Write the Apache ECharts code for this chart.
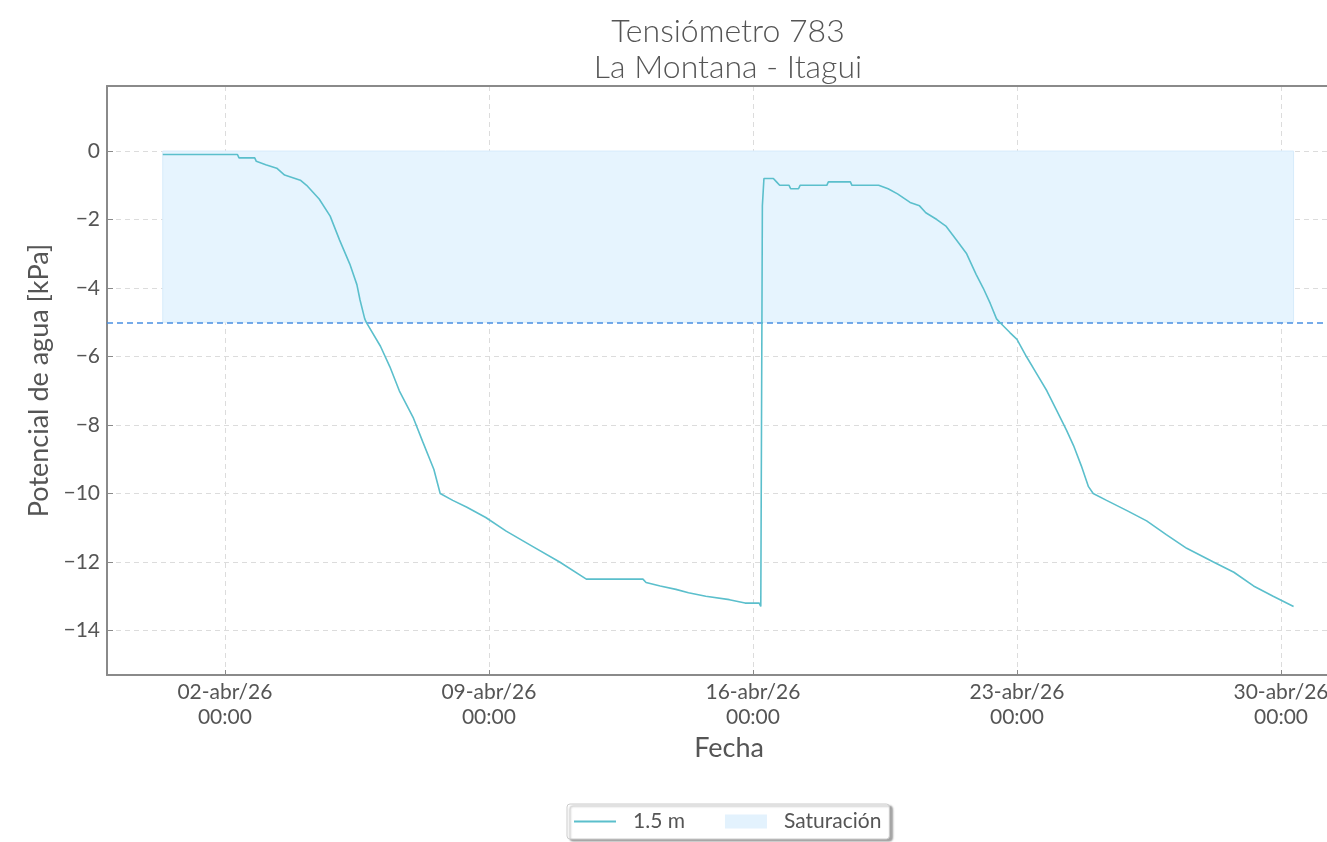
<!DOCTYPE html>
<html>
<head>
<meta charset="utf-8">
<script src="https://cdn.jsdelivr.net/npm/echarts@6/dist/echarts.min.js"></script>
<style>html,body{margin:0;padding:0;background:#fff;}#c{width:1327px;height:842px;}</style>
</head>
<body>
<div id="c"></div>
<script>
// ---- data ----
const fechas = [
 '2026-03-31T08:30','2026-04-02T08:00','2026-04-02T09:00','2026-04-02T19:00','2026-04-02T20:00',
 '2026-04-03T02:00','2026-04-03T09:00','2026-04-03T14:00','2026-04-04T00:00','2026-04-04T04:00',
 '2026-04-04T12:00','2026-04-04T19:00','2026-04-05T01:00','2026-04-05T07:30','2026-04-05T12:00',
 '2026-04-05T14:00','2026-04-05T17:00','2026-04-05T18:00','2026-04-06T03:00','2026-04-06T09:00',
 '2026-04-06T15:00','2026-04-07T00:00','2026-04-07T06:00','2026-04-07T13:00','2026-04-07T17:00',
 '2026-04-08T01:00','2026-04-08T10:00','2026-04-08T22:00','2026-04-09T11:00','2026-04-10T04:00',
 '2026-04-10T21:00','2026-04-11T14:00','2026-04-13T02:00','2026-04-13T04:00','2026-04-13T13:00',
 '2026-04-13T23:00','2026-04-14T07:00','2026-04-14T18:00','2026-04-15T09:00','2026-04-15T19:00',
 '2026-04-16T04:00','2026-04-16T05:00','2026-04-16T06:00','2026-04-16T07:00','2026-04-16T13:00',
 '2026-04-16T15:00','2026-04-16T17:00','2026-04-16T23:00','2026-04-17T00:00','2026-04-17T05:00',
 '2026-04-17T06:00','2026-04-17T23:00','2026-04-18T00:00','2026-04-18T14:00','2026-04-18T15:00',
 '2026-04-19T08:00','2026-04-19T14:00','2026-04-19T20:00','2026-04-20T04:00','2026-04-20T10:00',
 '2026-04-20T14:00','2026-04-20T21:00','2026-04-21T03:00','2026-04-21T09:30','2026-04-21T16:00',
 '2026-04-21T22:00','2026-04-22T02:30','2026-04-22T07:00','2026-04-22T11:00','2026-04-22T13:00',
 '2026-04-22T19:30','2026-04-23T00:00','2026-04-23T06:00','2026-04-23T12:30','2026-04-23T19:00',
 '2026-04-24T01:00','2026-04-24T07:30','2026-04-24T12:00','2026-04-24T17:00','2026-04-24T21:30',
 '2026-04-25T00:30','2026-04-25T09:00','2026-04-25T22:00','2026-04-26T10:30','2026-04-26T23:00',
 '2026-04-27T12:00','2026-04-28T05:00','2026-04-28T18:00','2026-04-29T06:30','2026-04-29T19:00',
 '2026-04-30T08:00'
];
const potencial = [
 -0.1,-0.1,-0.2,-0.2,-0.3,
 -0.4,-0.5,-0.7,-0.85,-1.0,
 -1.4,-1.9,-2.6,-3.3,-3.9,
 -4.35,-4.9,-5.0,-5.7,-6.3,
 -7.0,-7.8,-8.5,-9.3,-10.0,
 -10.2,-10.4,-10.7,-11.1,-11.55,
 -12.0,-12.5,-12.5,-12.6,-12.7,
 -12.8,-12.9,-13.0,-13.1,-13.2,
 -13.2,-13.3,-1.6,-0.8,-0.8,
 -0.9,-1.0,-1.0,-1.1,-1.1,
 -1.0,-1.0,-0.9,-0.9,-1.0,
 -1.0,-1.1,-1.25,-1.5,-1.6,
 -1.8,-2.0,-2.2,-2.6,-3.0,
 -3.6,-4.0,-4.45,-4.9,-5.0,
 -5.3,-5.5,-6.0,-6.5,-7.0,
 -7.55,-8.15,-8.6,-9.2,-9.8,
 -10.0,-10.2,-10.5,-10.8,-11.2,
 -11.6,-12.0,-12.3,-12.7,-13.0,
 -13.3
];
const saturacionSup = 0;
const saturacionInf = -5;
const xTickFechas = ['2026-04-02T00:00','2026-04-09T00:00','2026-04-16T00:00','2026-04-23T00:00','2026-04-30T00:00'];
const yTicks = [-14,-12,-10,-8,-6,-4,-2,0];
const meses = ['ene','feb','mar','abr','may','jun','jul','ago','sep','oct','nov','dic'];
const titulo = 'Tensiómetro 783';
const subtitulo = 'La Montana - Itagui';
const nombreSerie = '1.5 m';
const nombreSat = 'Saturación';
const xMin = '2026-03-29T21:00';
const xMax = '2026-05-01T05:16';
const yMin = -15.3, yMax = 1.9;

// ---- chart ----
const ts = s => new Date(s).getTime();
const pad = n => (n < 10 ? '0' : '') + n;
const serie = fechas.map((f, i) => [ts(f), potencial[i]]);
const tFirst = ts(fechas[0]), tLast = ts(fechas[fechas.length - 1]);
const FONT = 'Lato, "Open Sans", sans-serif';
const TXT = '#555555';
const SPINE = '#8a8a8a';
const GRIDC = '#dcdcdc';

const chart = echarts.init(document.getElementById('c'), null, {renderer: 'canvas'});
chart.setOption({
  animation: false,
  backgroundColor: '#ffffff',
  textStyle: {fontFamily: FONT},
  title: {
    text: titulo + '\n' + subtitulo,
    left: 723, top: 9, textAlign: 'center',
    textStyle: {fontFamily: FONT, fontSize: 32, fontWeight: 300, color: TXT, lineHeight: 36}
  },
  legend: {
    left: 567, top: 804,
    padding: [7, 8, 7, 7],
    itemWidth: 42, itemHeight: 14, itemGap: 40,
    borderColor: '#cccccc', borderWidth: 1, borderRadius: 3,
    backgroundColor: '#ffffff',
    shadowColor: 'rgba(0,0,0,0.35)', shadowOffsetX: 3, shadowOffsetY: 2, shadowBlur: 2,
    textStyle: {fontFamily: FONT, fontSize: 21, color: TXT, padding: [0, 0, 0, 12]},
    data: [
      {name: nombreSerie, icon: 'path://M0,0 L42,0 L42,2 L0,2 Z'},
      {name: nombreSat, icon: 'rect'}
    ]
  },
  grid: {left: 107, top: 86, right: 0, bottom: 167, show: false, containLabel: false, outerBoundsMode: 'none'},
  xAxis: [{
    type: 'value',
    min: ts(xMin), max: ts(xMax),
    name: 'Fecha', nameLocation: 'middle', nameGap: 58,
    nameTextStyle: {fontFamily: FONT, fontSize: 27, color: TXT, padding: [0, 0, 0, 24]},
    axisLine: {show: true, onZero: false, lineStyle: {color: SPINE, width: 2}},
    axisTick: {show: true, inside: true, length: 5, lineStyle: {color: SPINE}, customValues: xTickFechas.map(ts)},
    axisLabel: {
      customValues: xTickFechas.map(ts),
      fontFamily: FONT, fontSize: 21, color: TXT, lineHeight: 25, margin: 5,
      hideOverlap: false,
      formatter: v => { const d = new Date(v); return pad(d.getDate()) + '-' + meses[d.getMonth()] + '/' + String(d.getFullYear()).slice(2) + '\n' + pad(d.getHours()) + ':' + pad(d.getMinutes()); }
    },
    splitLine: {show: true, lineStyle: {color: GRIDC, type: [5, 4], width: 1}}
  }, {
    type: 'value', position: 'top',
    min: ts(xMin), max: ts(xMax),
    axisLine: {show: true, onZero: false, lineStyle: {color: SPINE, width: 2}},
    axisTick: {show: false}, axisLabel: {show: false}, splitLine: {show: false}
  }],
  yAxis: {
    type: 'value',
    min: yMin, max: yMax,
    name: 'Potencial de agua [kPa]', nameLocation: 'middle', nameGap: 53,
    nameTextStyle: {fontFamily: FONT, fontSize: 27, color: TXT},
    axisLine: {show: true, onZero: false, lineStyle: {color: SPINE, width: 2}},
    axisTick: {show: true, inside: true, length: 6, lineStyle: {color: SPINE}, customValues: yTicks},
    axisLabel: {
      customValues: yTicks,
      fontFamily: FONT, fontSize: 21, color: TXT, margin: 7,
      formatter: v => (v < 0 ? '\u2212' + Math.abs(v) : String(v))
    },
    splitLine: {show: true, lineStyle: {color: GRIDC, type: [5, 4], width: 1}}
  },
  series: [
    {
      name: nombreSerie,
      type: 'line',
      data: serie,
      showSymbol: false, symbol: 'none',
      color: '#5bbfcc',
      lineStyle: {color: '#5bbfcc', width: 1.6},
      z: 5,
      markLine: {
        silent: true, symbol: 'none', label: {show: false},
        lineStyle: {color: '#4a90e2', type: [6, 4], width: 1.5},
        data: [{yAxis: saturacionInf}]
      }
    },
    {
      name: nombreSat,
      type: 'line',
      data: [[tFirst, saturacionSup], [tLast, saturacionSup]],
      symbol: 'none', showSymbol: false,
      color: '#e3f2fd',
      itemStyle: {color: '#e3f2fd'},
      lineStyle: {width: 0, opacity: 0},
      z: 1,
      markArea: {
        silent: true,
        itemStyle: {color: '#e6f4fe', borderColor: '#d6ebfb', borderWidth: 1},
        data: [[{xAxis: tFirst, yAxis: saturacionSup}, {xAxis: tLast, yAxis: saturacionInf}]]
      }
    }
  ]
});
</script>
</body>
</html>
